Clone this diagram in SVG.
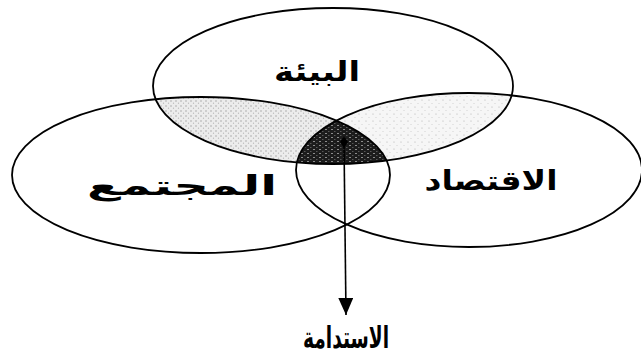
<svg xmlns="http://www.w3.org/2000/svg" width="641" height="357" viewBox="0 0 641 357">
  <style>
    .ring { fill: none; stroke: #000; stroke-width: 1.8; }
    .lbl { font-family: "DejaVu Sans", sans-serif; font-weight: bold; font-size: 27px; fill: #000; text-anchor: middle; }
    .conn { stroke: #000; stroke-width: 1.6; fill: none; }
  </style>
  <defs>
    <clipPath id="cTop"><ellipse cx="333" cy="86" rx="180" ry="78"/></clipPath>
    <clipPath id="cLeft"><ellipse cx="201" cy="175" rx="189" ry="78"/></clipPath>
    <clipPath id="cRight"><ellipse cx="469" cy="170" rx="173" ry="77"/></clipPath>
    <pattern id="stipA" width="5" height="5" patternUnits="userSpaceOnUse">
      <rect width="5" height="5" fill="#ececec"/>
      <circle cx="1" cy="1" r="0.7" fill="#9a9a9a"/>
      <circle cx="3.5" cy="3.2" r="0.6" fill="#b5b5b5"/>
    </pattern>
    <pattern id="stipB" width="7" height="7" patternUnits="userSpaceOnUse">
      <rect width="7" height="7" fill="#f6f6f6"/>
      <circle cx="2" cy="2" r="0.6" fill="#b0b0b0"/>
      <circle cx="5" cy="5.5" r="0.5" fill="#c8c8c8"/>
    </pattern>
    <pattern id="dark" width="6" height="4" patternUnits="userSpaceOnUse">
      <rect width="6" height="4" fill="#1c1c1c"/>
      <rect x="1" y="1" width="2" height="0.8" fill="#a8a8a8"/>
      <rect x="4" y="3" width="1.5" height="0.7" fill="#707070"/>
    </pattern>
    <marker id="head" viewBox="0 0 17 15" refX="17" refY="7.5" markerWidth="17" markerHeight="15" markerUnits="userSpaceOnUse" orient="auto">
      <path d="M0,0 L17,7.5 L0,15 Z" fill="#000"/>
    </marker>
  </defs>

  <!-- overlap shading -->
  <g id="shading">
    <g clip-path="url(#cTop)">
      <ellipse cx="201" cy="175" rx="189" ry="78" fill="url(#stipA)"/>
      <ellipse cx="469" cy="170" rx="173" ry="77" fill="url(#stipB)"/>
      <g clip-path="url(#cLeft)">
        <ellipse cx="469" cy="170" rx="173" ry="77" fill="url(#dark)"/>
      </g>
    </g>
  </g>

  <g id="node-environment">
    <ellipse class="ring" cx="333" cy="86" rx="180" ry="78"/>
    <text class="lbl" x="317" y="81" textLength="86" lengthAdjust="spacingAndGlyphs">البيئة</text>
  </g>
  <g id="node-society">
    <ellipse class="ring" cx="201" cy="175" rx="189" ry="78"/>
    <text class="lbl" x="182" y="195" textLength="190" lengthAdjust="spacingAndGlyphs">المجتمع</text>
  </g>
  <g id="node-economy">
    <ellipse class="ring" cx="469" cy="170" rx="173" ry="77"/>
    <text class="lbl" x="491" y="190" textLength="133" lengthAdjust="spacingAndGlyphs">الاقتصاد</text>
  </g>

  <g id="connectors">
    <path d="M344,136 L348,142 L344,148 L340,142 Z" fill="#000"/>
    <line class="conn" x1="344" y1="142" x2="346" y2="315" marker-end="url(#head)"/>
  </g>

  <g id="node-sustainability">
    <text class="lbl" x="346" y="348" textLength="86" lengthAdjust="spacingAndGlyphs" style="font-size:30px">الاستدامة</text>
  </g>
</svg>
